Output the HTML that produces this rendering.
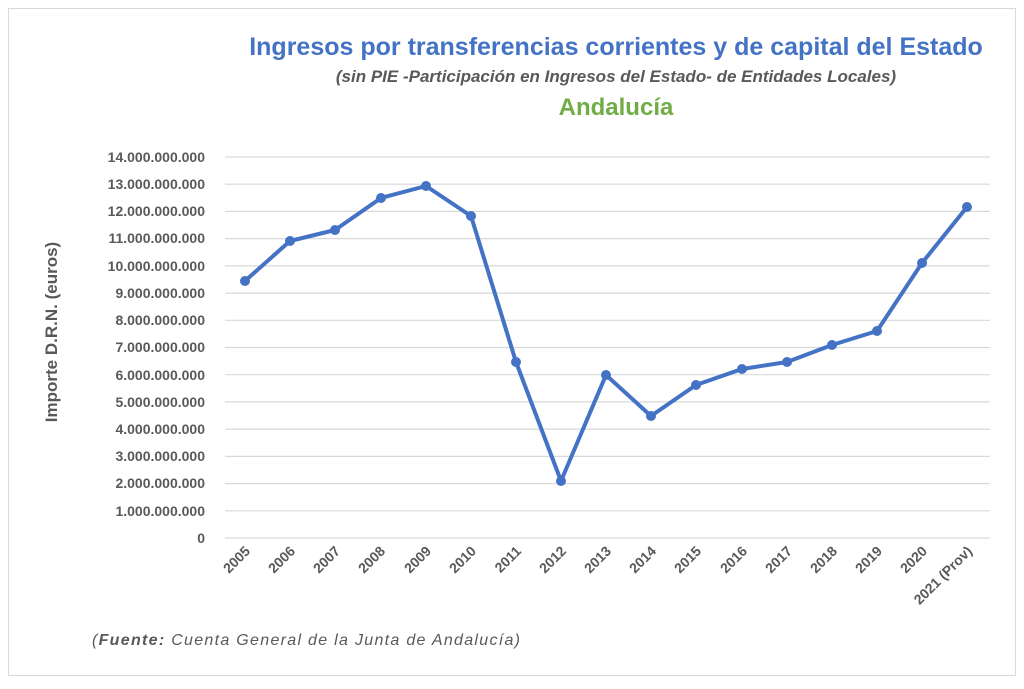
<!DOCTYPE html>
<html><head><meta charset="utf-8"><style>
body{margin:0;background:#fff;}
</style></head><body>
<svg width="1024" height="684" xmlns="http://www.w3.org/2000/svg" font-family="Liberation Sans, sans-serif">
<rect x="8.5" y="8.5" width="1007" height="667" fill="#fff" stroke="#d9d9d9"/>
<text x="616" y="55" text-anchor="middle" font-size="25" font-weight="bold" fill="#4472c4">Ingresos por transferencias corrientes y de capital del Estado</text>
<text x="616" y="82" text-anchor="middle" font-size="17" font-weight="bold" font-style="italic" fill="#595959">(sin PIE -Participación en Ingresos del Estado- de Entidades Locales)</text>
<text x="616" y="115" text-anchor="middle" font-size="24" font-weight="bold" fill="#70ad47">Andalucía</text>
<g stroke="#d9d9d9" stroke-width="1.2">
<line x1="225" x2="990" y1="157" y2="157"/><line x1="225" x2="990" y1="184.2" y2="184.2"/><line x1="225" x2="990" y1="211.4" y2="211.4"/><line x1="225" x2="990" y1="238.6" y2="238.6"/><line x1="225" x2="990" y1="265.9" y2="265.9"/><line x1="225" x2="990" y1="293.1" y2="293.1"/><line x1="225" x2="990" y1="320.3" y2="320.3"/><line x1="225" x2="990" y1="347.5" y2="347.5"/><line x1="225" x2="990" y1="374.7" y2="374.7"/><line x1="225" x2="990" y1="401.9" y2="401.9"/><line x1="225" x2="990" y1="429.1" y2="429.1"/><line x1="225" x2="990" y1="456.4" y2="456.4"/><line x1="225" x2="990" y1="483.6" y2="483.6"/><line x1="225" x2="990" y1="510.8" y2="510.8"/><line x1="225" x2="990" y1="538" y2="538"/>
</g>
<g font-size="14" font-weight="bold" fill="#595959" text-anchor="end">
<text x="205" y="162">14.000.000.000</text><text x="205" y="189">13.000.000.000</text><text x="205" y="216">12.000.000.000</text><text x="205" y="243">11.000.000.000</text><text x="205" y="271">10.000.000.000</text><text x="205" y="298">9.000.000.000</text><text x="205" y="325">8.000.000.000</text><text x="205" y="352">7.000.000.000</text><text x="205" y="380">6.000.000.000</text><text x="205" y="407">5.000.000.000</text><text x="205" y="434">4.000.000.000</text><text x="205" y="461">3.000.000.000</text><text x="205" y="488">2.000.000.000</text><text x="205" y="516">1.000.000.000</text><text x="205" y="543">0</text>
</g>
<text transform="translate(57,332) rotate(-90)" text-anchor="middle" font-size="17" font-weight="bold" fill="#595959">Importe D.R.N.  (euros)</text>
<g font-size="14" font-weight="bold" fill="#595959" text-anchor="end">
<text transform="translate(251,552) rotate(-45)">2005</text>
<text transform="translate(296,552) rotate(-45)">2006</text>
<text transform="translate(341,552) rotate(-45)">2007</text>
<text transform="translate(386,552) rotate(-45)">2008</text>
<text transform="translate(432,552) rotate(-45)">2009</text>
<text transform="translate(477,552) rotate(-45)">2010</text>
<text transform="translate(522,552) rotate(-45)">2011</text>
<text transform="translate(567,552) rotate(-45)">2012</text>
<text transform="translate(612,552) rotate(-45)">2013</text>
<text transform="translate(657,552) rotate(-45)">2014</text>
<text transform="translate(702,552) rotate(-45)">2015</text>
<text transform="translate(748,552) rotate(-45)">2016</text>
<text transform="translate(793,552) rotate(-45)">2017</text>
<text transform="translate(838,552) rotate(-45)">2018</text>
<text transform="translate(883,552) rotate(-45)">2019</text>
<text transform="translate(928,552) rotate(-45)">2020</text>
<text transform="translate(973,552) rotate(-45)">2021 (Prov)</text>
</g>
<polyline fill="none" stroke="#4472c4" stroke-width="4" stroke-linejoin="round" points="245,281 290,241 335,230 381,198 426,186 471,216 516,362 561,481 606,375 651,416 696,385 742,369 787,362 832,345 877,331 922,263 967,207"/>
<g fill="#4472c4">
<circle cx="245" cy="281" r="5"/><circle cx="290" cy="241" r="5"/><circle cx="335" cy="230" r="5"/><circle cx="381" cy="198" r="5"/><circle cx="426" cy="186" r="5"/><circle cx="471" cy="216" r="5"/><circle cx="516" cy="362" r="5"/><circle cx="561" cy="481" r="5"/><circle cx="606" cy="375" r="5"/><circle cx="651" cy="416" r="5"/><circle cx="696" cy="385" r="5"/><circle cx="742" cy="369" r="5"/><circle cx="787" cy="362" r="5"/><circle cx="832" cy="345" r="5"/><circle cx="877" cy="331" r="5"/><circle cx="922" cy="263" r="5"/><circle cx="967" cy="207" r="5"/>
</g>
<text x="92" y="645" font-size="16" font-style="italic" fill="#595959" textLength="428" lengthAdjust="spacing">(<tspan font-weight="bold">Fuente:</tspan> Cuenta General de la Junta de Andalucía)</text>
</svg>
</body></html>
